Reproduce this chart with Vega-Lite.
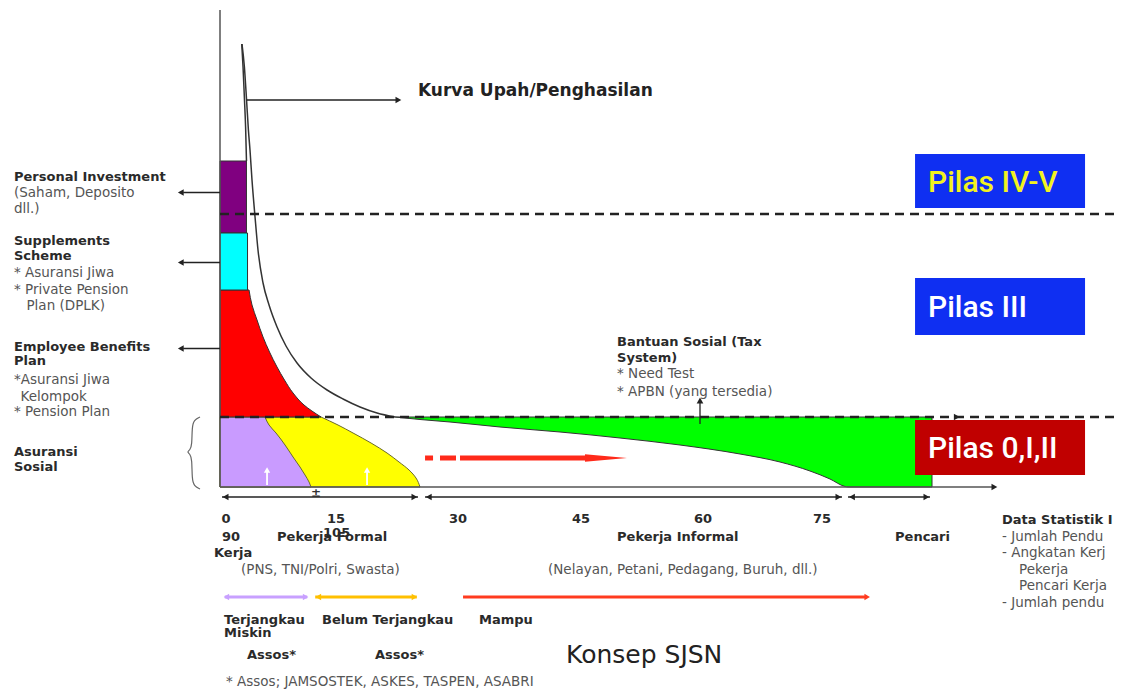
{
  "$schema": "https://vega.github.io/schema/vega-lite/v6.json",
  "width": 1124,
  "height": 691,
  "autosize": {"type": "fit", "contains": "padding"},
  "padding": 0,
  "background": "white",
  "config": {"view": {"stroke": null}},
  "datasets": {
    "boxes": [
      {"part": "Personal Investment", "x": 0, "x2": 3.31, "y": 50.8, "y2": 65.2},
      {"part": "Supplements Scheme", "x": 0, "x2": 3.44, "y": 39.4, "y2": 50.8}
    ],
    "pilas": [
      {"part": "Pilas IV-V", "x": 86.88, "x2": 108.13, "y": 55.8, "y2": 66.6},
      {"part": "Pilas III", "x": 86.88, "x2": 108.13, "y": 30.4, "y2": 41.8},
      {"part": "Pilas 0,I,II", "x": 86.88, "x2": 108.13, "y": 2.4, "y2": 13.4}
    ],
    "red": [
      {"x": 3.63, "y": 39.4}, {"x": 4.0, "y": 36.4}, {"x": 4.63, "y": 33.4}, {"x": 5.38, "y": 30},
      {"x": 6.19, "y": 27}, {"x": 7.13, "y": 24}, {"x": 8.06, "y": 21.4}, {"x": 9.13, "y": 18.8},
      {"x": 10.5, "y": 16.4}, {"x": 12.63, "y": 14}
    ],
    "yellow": [
      {"x": 12.63, "y": 14}, {"x": 14.75, "y": 12.4}, {"x": 16.63, "y": 10.8}, {"x": 18.88, "y": 8.8},
      {"x": 20.88, "y": 6.8}, {"x": 22.38, "y": 5}, {"x": 23.63, "y": 3.4}, {"x": 24.5, "y": 1.8},
      {"x": 25.0, "y": 0}
    ],
    "lavender": [
      {"x": 5.63, "y": 14}, {"x": 6.13, "y": 12.4}, {"x": 7.0, "y": 10.8}, {"x": 8.13, "y": 8.4},
      {"x": 9.13, "y": 6}, {"x": 10.0, "y": 4}, {"x": 10.63, "y": 2.4}, {"x": 11.13, "y": 1},
      {"x": 11.38, "y": 0}
    ],
    "green": [
      {"x": 21.88, "y": 14}, {"x": 25, "y": 13.5}, {"x": 28.75, "y": 13}, {"x": 35, "y": 12},
      {"x": 42.5, "y": 11}, {"x": 50, "y": 9.8}, {"x": 57.5, "y": 8.4}, {"x": 65, "y": 6.6},
      {"x": 70, "y": 5}, {"x": 73.75, "y": 3.2}, {"x": 76.25, "y": 1.6}, {"x": 78.13, "y": 0.1},
      {"x": 78.5, "y": 0}, {"x": 89, "y": 0}
    ],
    "curves": [
      {"part": "outer", "x": 2.75, "y": 88.6}, {"part": "outer", "x": 3.05, "y": 84},
      {"part": "outer", "x": 3.32, "y": 77.4}, {"part": "outer", "x": 3.55, "y": 71.4},
      {"part": "outer", "x": 3.75, "y": 67.4}, {"part": "outer", "x": 4.0, "y": 61.4},
      {"part": "outer", "x": 4.38, "y": 54}, {"part": "outer", "x": 4.75, "y": 47.4},
      {"part": "outer", "x": 5.38, "y": 40.8}, {"part": "outer", "x": 6.13, "y": 36.4},
      {"part": "outer", "x": 7.13, "y": 32}, {"part": "outer", "x": 8.25, "y": 28.2},
      {"part": "outer", "x": 9.63, "y": 24.8}, {"part": "outer", "x": 11.38, "y": 21.8},
      {"part": "outer", "x": 13.38, "y": 19.4}, {"part": "outer", "x": 15.38, "y": 17.6},
      {"part": "outer", "x": 17.5, "y": 16}, {"part": "outer", "x": 19.63, "y": 14.8},
      {"part": "outer", "x": 21.88, "y": 14},
      {"part": "inner", "x": 2.72, "y": 88.6}, {"part": "inner", "x": 2.88, "y": 84},
      {"part": "inner", "x": 3.06, "y": 77.4}, {"part": "inner", "x": 3.2, "y": 72},
      {"part": "inner", "x": 3.31, "y": 65.2}
    ],
    "brace": [
      {"i": 1, "x": -2.5, "y": 14}, {"i": 2, "x": -3.25, "y": 13.4}, {"i": 3, "x": -3.5, "y": 12},
      {"i": 4, "x": -3.5, "y": 8.4}, {"i": 5, "x": -3.75, "y": 7.4}, {"i": 6, "x": -4.13, "y": 7},
      {"i": 7, "x": -3.75, "y": 6.6}, {"i": 8, "x": -3.5, "y": 5.6}, {"i": 9, "x": -3.5, "y": 1.6},
      {"i": 10, "x": -3.25, "y": 0.2}, {"i": 11, "x": -2.5, "y": -0.4}
    ],
    "axisRules": [
      {"x": 0, "y": 0, "x2": 0, "y2": 95.4},
      {"x": 0, "y": 0, "x2": 96.5, "y2": 0}
    ],
    "blackRules": [
      {"x": 3.3, "y": 77.4, "x2": 22, "y2": 77.4},
      {"x": 0, "y": 58.9, "x2": -4.6, "y2": 58.9},
      {"x": 0, "y": 44.9, "x2": -4.6, "y2": 44.9},
      {"x": 0, "y": 27.7, "x2": -4.6, "y2": 27.7},
      {"x": 0.25, "y": -2, "x2": 24.75, "y2": -2},
      {"x": 25.63, "y": -2, "x2": 77.75, "y2": -2},
      {"x": 78.5, "y": -2, "x2": 88.75, "y2": -2},
      {"x": 60, "y": 12.6, "x2": 60, "y2": 17}
    ],
    "dashed": [
      {"x": 0, "y": 54.6, "x2": 111.9, "y2": 54.6},
      {"x": 0, "y": 14, "x2": 111.9, "y2": 14}
    ],
    "redDash": [
      {"x": 25.63, "y": 5.8, "x2": 26.63, "y2": 5.8},
      {"x": 27.5, "y": 5.8, "x2": 29.5, "y2": 5.8},
      {"x": 30, "y": 5.8, "x2": 46.5, "y2": 5.8}
    ],
    "redHead": [{"x": 48.25, "y": 5.8}],
    "colorArrows": [
      {"part": "Terjangkau", "x": 0.6, "y": -22, "x2": 10.9, "y2": -22},
      {"part": "Belum Terjangkau", "x": 11.9, "y": -22, "x2": 24.6, "y2": -22},
      {"part": "Mampu", "x": 30.38, "y": -22, "x2": 80.8, "y2": -22}
    ],
    "colorHeads": [
      {"part": "Terjangkau", "dir": "left", "x": 0.8, "y": -22},
      {"part": "Terjangkau", "dir": "right", "x": 10.7, "y": -22},
      {"part": "Belum Terjangkau", "dir": "left", "x": 12.3, "y": -22},
      {"part": "Belum Terjangkau", "dir": "right", "x": 24.3, "y": -22},
      {"part": "Mampu", "dir": "right", "x": 80.9, "y": -22}
    ],
    "whiteRules": [
      {"x": 5.88, "y": 0.4, "x2": 5.88, "y2": 3},
      {"x": 18.38, "y": 0.4, "x2": 18.38, "y2": 3}
    ],
    "whiteHeads": [
      {"dir": "up", "x": 5.88, "y": 3.4},
      {"dir": "up", "x": 18.38, "y": 3.4}
    ],
    "blackHeads": [
      {"dir": "right", "x": 22.3, "y": 77.4},
      {"dir": "left", "x": -4.9, "y": 58.9},
      {"dir": "left", "x": -4.9, "y": 44.9},
      {"dir": "left", "x": -4.9, "y": 27.7},
      {"dir": "right", "x": 96.8, "y": 0},
      {"dir": "left", "x": 0.7, "y": -2},
      {"dir": "right", "x": 24.3, "y": -2},
      {"dir": "left", "x": 26.1, "y": -2},
      {"dir": "right", "x": 77.3, "y": -2},
      {"dir": "left", "x": 79, "y": -2},
      {"dir": "right", "x": 88.3, "y": -2},
      {"dir": "up", "x": 60, "y": 17.3},
      {"dir": "right", "x": 92.1, "y": 14}
    ],
    "boldText": [
      {"label": "Personal Investment", "x": -25.75, "y": 62},
      {"label": "Supplements", "x": -25.75, "y": 49.2},
      {"label": "Scheme", "x": -25.75, "y": 46.3},
      {"label": "Employee Benefits", "x": -25.75, "y": 28.1},
      {"label": "Plan", "x": -25.75, "y": 25.2},
      {"label": "Asuransi", "x": -25.75, "y": 7.1},
      {"label": "Sosial", "x": -25.75, "y": 4},
      {"label": "90", "x": 0.25, "y": -10},
      {"label": "Pekerja Formal", "x": 7.13, "y": -10},
      {"label": "105", "x": 12.88, "y": -9.2},
      {"label": "Kerja", "x": -0.75, "y": -13.1},
      {"label": "Pekerja Informal", "x": 49.63, "y": -10},
      {"label": "Pencari", "x": 84.38, "y": -10},
      {"label": "Data Statistik I", "x": 97.75, "y": -6.6},
      {"label": "Terjangkau", "x": 0.5, "y": -26.5},
      {"label": "Miskin", "x": 0.5, "y": -29.1},
      {"label": "Belum Terjangkau", "x": 12.75, "y": -26.5},
      {"label": "Mampu", "x": 32.38, "y": -26.5},
      {"label": "Assos*", "x": 3.38, "y": -33.6},
      {"label": "Assos*", "x": 19.38, "y": -33.6},
      {"label": "Bantuan Sosial (Tax", "x": 49.63, "y": 29},
      {"label": "System)", "x": 49.63, "y": 25.9}
    ],
    "ticks": [
      {"label": "0", "x": 0.75, "y": -6.3},
      {"label": "15", "x": 14.5, "y": -6.3},
      {"label": "30", "x": 29.75, "y": -6.3},
      {"label": "45", "x": 45.13, "y": -6.3},
      {"label": "60", "x": 60.38, "y": -6.3},
      {"label": "75", "x": 75.25, "y": -6.3}
    ],
    "normalText": [
      {"label": "(Saham, Deposito", "x": -25.75, "y": 58.8},
      {"label": "dll.)", "x": -25.75, "y": 55.6},
      {"label": "* Asuransi Jiwa", "x": -25.75, "y": 42.9},
      {"label": "* Private Pension", "x": -25.75, "y": 39.4},
      {"label": "Plan (DPLK)", "x": -24.19, "y": 36.2},
      {"label": "*Asuransi Jiwa", "x": -25.75, "y": 21.5},
      {"label": "Kelompok", "x": -24.94, "y": 18.1},
      {"label": "* Pension Plan", "x": -25.75, "y": 15},
      {"label": "(PNS, TNI/Polri, Swasta)", "x": 2.63, "y": -16.6},
      {"label": "(Nelayan, Petani, Pedagang, Buruh, dll.)", "x": 41, "y": -16.6},
      {"label": "- Jumlah Pendu", "x": 97.75, "y": -10},
      {"label": "- Angkatan Kerj", "x": 97.75, "y": -13.2},
      {"label": "Pekerja", "x": 99.88, "y": -16.6},
      {"label": "Pencari Kerja", "x": 99.88, "y": -19.8},
      {"label": "- Jumlah pendu", "x": 97.75, "y": -23.2},
      {"label": "* Need Test", "x": 49.63, "y": 22.6},
      {"label": "* APBN (yang tersedia)", "x": 49.63, "y": 19.1},
      {"label": "* Assos; JAMSOSTEK, ASKES, TASPEN, ASABRI", "x": 0.75, "y": -39}
    ],
    "plusMinus": [{"label": "±", "x": 12, "y": -1.2}],
    "kurva": [{"label": "Kurva Upah/Penghasilan", "x": 24.75, "y": 79.2}],
    "konsep": [{"label": "Konsep SJSN", "x": 43.25, "y": -33.6}],
    "pilasYellow": [{"label": "Pilas IV-V", "x": 88.5, "y": 60.8}],
    "pilasWhite": [
      {"label": "Pilas III", "x": 88.5, "y": 35.8},
      {"label": "Pilas 0,I,II", "x": 88.5, "y": 7.6}
    ]
  },
  "encoding": {
    "x": {"field": "x", "type": "quantitative", "scale": {"domain": [-27.5, 113], "nice": false, "zero": false}, "axis": null},
    "y": {"field": "y", "type": "quantitative", "scale": {"domain": [-40.8, 97.4], "nice": false, "zero": false}, "axis": null}
  },
  "layer": [
    {
      "data": {"name": "yellow"},
      "mark": {"type": "area", "orient": "horizontal", "interpolate": "monotone", "color": "#FFFF00", "stroke": "#6b6b2a", "strokeWidth": 1},
      "encoding": {"x2": {"datum": 0}}
    },
    {
      "data": {"name": "lavender"},
      "mark": {"type": "area", "orient": "horizontal", "interpolate": "monotone", "color": "#C99BFF", "stroke": "#6b6b2a", "strokeWidth": 1},
      "encoding": {"x2": {"datum": 0}}
    },
    {
      "data": {"name": "red"},
      "mark": {"type": "area", "orient": "horizontal", "interpolate": "monotone", "color": "#FF0000", "stroke": "#333333", "strokeWidth": 1},
      "encoding": {"x2": {"datum": 0}}
    },
    {
      "data": {"name": "green"},
      "mark": {"type": "area", "interpolate": "monotone", "color": "#00FF00", "stroke": "#333333", "strokeWidth": 1},
      "encoding": {"y2": {"datum": 14}}
    },
    {
      "data": {"name": "boxes"},
      "mark": {"type": "rect", "stroke": "#333333", "strokeWidth": 1},
      "encoding": {
        "x2": {"field": "x2"}, "y2": {"field": "y2"},
        "color": {"field": "part", "type": "nominal", "legend": null,
          "scale": {"domain": ["Personal Investment", "Supplements Scheme", "Pilas IV-V", "Pilas III", "Pilas 0,I,II"],
                    "range": ["#800080", "#00FFFF", "#0F2FF2", "#0F2FF2", "#C00000"]}}
      }
    },
    {
      "data": {"name": "pilas"},
      "mark": {"type": "rect"},
      "encoding": {
        "x2": {"field": "x2"}, "y2": {"field": "y2"},
        "color": {"field": "part", "type": "nominal", "legend": null,
          "scale": {"domain": ["Personal Investment", "Supplements Scheme", "Pilas IV-V", "Pilas III", "Pilas 0,I,II"],
                    "range": ["#800080", "#00FFFF", "#0F2FF2", "#0F2FF2", "#C00000"]}}
      }
    },
    {
      "data": {"name": "curves"},
      "mark": {"type": "line", "interpolate": "monotone", "color": "#333333", "strokeWidth": 1.5},
      "encoding": {"detail": {"field": "part"}}
    },
    {
      "data": {"name": "brace"},
      "mark": {"type": "line", "interpolate": "basis", "color": "#666666", "strokeWidth": 1.2},
      "encoding": {"order": {"field": "i", "type": "quantitative"}}
    },
    {
      "data": {"name": "axisRules"},
      "mark": {"type": "rule", "color": "#555555", "strokeWidth": 1.5},
      "encoding": {"x2": {"field": "x2"}, "y2": {"field": "y2"}}
    },
    {
      "data": {"name": "blackRules"},
      "mark": {"type": "rule", "color": "#222222", "strokeWidth": 1.3},
      "encoding": {"x2": {"field": "x2"}, "y2": {"field": "y2"}}
    },
    {
      "data": {"name": "dashed"},
      "mark": {"type": "rule", "color": "#222222", "strokeWidth": 2.5, "strokeDash": [9, 6]},
      "encoding": {"x2": {"field": "x2"}, "y2": {"field": "y2"}}
    },
    {
      "data": {"name": "redDash"},
      "mark": {"type": "rule", "color": "#FF2A1A", "strokeWidth": 5},
      "encoding": {"x2": {"field": "x2"}, "y2": {"field": "y2"}}
    },
    {
      "data": {"name": "redHead"},
      "mark": {"type": "point", "shape": "M-1,-0.18L1,0L-1,0.18Z", "size": 1764, "filled": true, "color": "#FF2A1A", "opacity": 1, "strokeWidth": 0}
    },
    {
      "data": {"name": "colorArrows"},
      "mark": {"type": "rule", "strokeWidth": 3},
      "encoding": {
        "x2": {"field": "x2"}, "y2": {"field": "y2"},
        "stroke": {"field": "part", "type": "nominal", "legend": null,
          "scale": {"domain": ["Terjangkau", "Belum Terjangkau", "Mampu"], "range": ["#C8A0FF", "#FFC000", "#FF3B1F"]}}
      }
    },
    {
      "data": {"name": "colorHeads"},
      "mark": {"type": "point", "filled": true, "size": 40, "opacity": 1, "strokeWidth": 0},
      "encoding": {
        "fill": {"field": "part", "type": "nominal", "legend": null,
          "scale": {"domain": ["Terjangkau", "Belum Terjangkau", "Mampu"], "range": ["#C8A0FF", "#FFC000", "#FF3B1F"]}},
        "shape": {"field": "dir", "type": "nominal", "legend": null,
          "scale": {"domain": ["left", "right", "up"], "range": ["triangle-left", "triangle-right", "triangle-up"]}}
      }
    },
    {
      "data": {"name": "whiteRules"},
      "mark": {"type": "rule", "color": "#FFFFFF", "strokeWidth": 1.8},
      "encoding": {"x2": {"field": "x2"}, "y2": {"field": "y2"}}
    },
    {
      "data": {"name": "whiteHeads"},
      "mark": {"type": "point", "filled": true, "size": 40, "color": "#FFFFFF", "opacity": 1, "strokeWidth": 0},
      "encoding": {
        "shape": {"field": "dir", "type": "nominal", "legend": null,
          "scale": {"domain": ["left", "right", "up"], "range": ["triangle-left", "triangle-right", "triangle-up"]}}
      }
    },
    {
      "data": {"name": "blackHeads"},
      "mark": {"type": "point", "filled": true, "size": 45, "color": "#222222", "opacity": 1, "strokeWidth": 0},
      "encoding": {
        "shape": {"field": "dir", "type": "nominal", "legend": null,
          "scale": {"domain": ["left", "right", "up"], "range": ["triangle-left", "triangle-right", "triangle-up"]}}
      }
    },
    {
      "data": {"name": "boldText"},
      "mark": {"type": "text", "align": "left", "baseline": "middle", "font": "DejaVu Sans", "fontWeight": "bold", "fontSize": 13, "color": "#2a2a2a"},
      "encoding": {"text": {"field": "label"}}
    },
    {
      "data": {"name": "ticks"},
      "mark": {"type": "text", "align": "center", "baseline": "middle", "font": "DejaVu Sans", "fontWeight": "bold", "fontSize": 13, "color": "#2a2a2a"},
      "encoding": {"text": {"field": "label"}}
    },
    {
      "data": {"name": "normalText"},
      "mark": {"type": "text", "align": "left", "baseline": "middle", "font": "DejaVu Sans", "fontSize": 13.5, "color": "#555555"},
      "encoding": {"text": {"field": "label"}}
    },
    {
      "data": {"name": "plusMinus"},
      "mark": {"type": "text", "align": "center", "baseline": "middle", "font": "DejaVu Sans", "fontWeight": "bold", "fontSize": 12, "color": "#333333"},
      "encoding": {"text": {"field": "label"}}
    },
    {
      "data": {"name": "kurva"},
      "mark": {"type": "text", "align": "left", "baseline": "middle", "font": "DejaVu Sans", "fontWeight": "bold", "fontSize": 17, "color": "#222222"},
      "encoding": {"text": {"field": "label"}}
    },
    {
      "data": {"name": "konsep"},
      "mark": {"type": "text", "align": "left", "baseline": "middle", "font": "DejaVu Sans", "fontSize": 25, "color": "#222222"},
      "encoding": {"text": {"field": "label"}}
    },
    {
      "data": {"name": "pilasYellow"},
      "mark": {"type": "text", "align": "left", "baseline": "middle", "font": "Roboto", "fontWeight": 500, "fontSize": 30, "color": "#F2F21F"},
      "encoding": {"text": {"field": "label"}}
    },
    {
      "data": {"name": "pilasWhite"},
      "mark": {"type": "text", "align": "left", "baseline": "middle", "font": "Roboto", "fontWeight": 500, "fontSize": 30, "color": "#FFFFFF"},
      "encoding": {"text": {"field": "label"}}
    }
  ]
}
